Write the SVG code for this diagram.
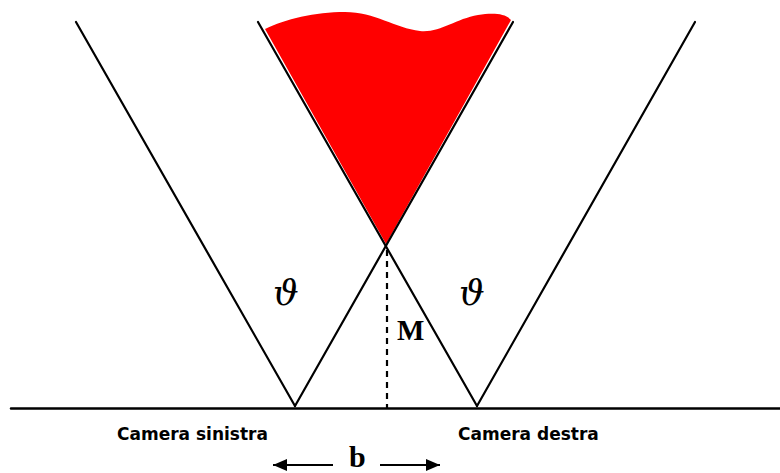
<svg xmlns="http://www.w3.org/2000/svg" width="780" height="473" viewBox="0 0 780 473">
<defs>
<style>
.ln{stroke:#000;stroke-width:2.2;fill:none;stroke-linecap:round}
.lbl{font-family:"DejaVu Sans",Verdana,sans-serif;font-weight:bold;font-size:17px;fill:#000}
.serif{font-family:"Liberation Serif","Times New Roman",serif;fill:#000}
.theta{font-family:"DejaVu Serif",serif;font-style:italic;font-size:36px;fill:#000}
</style>
<marker id="ah" viewBox="0 0 14 12" refX="14" refY="6" markerWidth="14" markerHeight="12" markerUnits="userSpaceOnUse" orient="auto">
<path d="M0,0 L14,6 L0,12 Z" fill="#000"/>
</marker>
</defs>
<rect width="780" height="473" fill="#fff"/>
<g id="overlap-region">
<path d="M265,29 C285,19 315,12 345,12 C375,12 395,28 420,31 C440,33 455,19 478,15 C492,13 505,13 511,20 L386,244 Z" fill="#ff0000"/>
</g>
<g id="connectors">
<line class="ln" x1="11" y1="408.5" x2="780" y2="408.5" style="stroke-width:2.5"/>
<line class="ln" x1="295" y1="406" x2="76" y2="22"/>
<line class="ln" x1="295" y1="406" x2="513" y2="22"/>
<line class="ln" x1="477" y1="406" x2="258" y2="22"/>
<line class="ln" x1="477" y1="406" x2="695" y2="22"/>
<line class="ln" x1="387" y1="250" x2="387" y2="408" style="stroke-dasharray:6,5;stroke-linecap:butt"/>
<line class="ln" x1="333" y1="465" x2="273" y2="465" marker-end="url(#ah)" style="stroke-linecap:butt"/>
<line class="ln" x1="380" y1="465" x2="440" y2="465" marker-end="url(#ah)" style="stroke-linecap:butt"/>
</g>
<g id="camera-left">
<text class="lbl" x="117" y="440">Camera sinistra</text>
</g>
<g id="camera-right">
<text class="lbl" x="458" y="440">Camera destra</text>
</g>
<g id="angle-left">
<text class="theta" x="273" y="305">ϑ</text>
</g>
<g id="angle-right">
<text class="theta" x="459" y="305">ϑ</text>
</g>
<g id="label-M">
<text class="serif" x="397" y="340" font-size="29" font-weight="bold">M</text>
</g>
<g id="label-b">
<text class="serif" x="349" y="467" font-size="30" font-weight="bold">b</text>
</g>
</svg>
